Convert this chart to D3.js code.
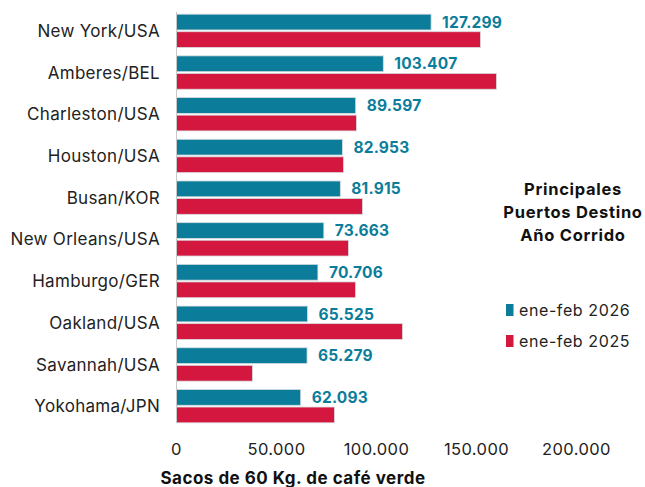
<!DOCTYPE html>
<html><head><meta charset="utf-8">
<script src="https://cdn.jsdelivr.net/npm/d3@7"></script>
<style>
body{margin:0;background:#fff;}
svg{display:block;font-family:"Inter","Open Sans",sans-serif;}
</style></head>
<body><svg id="c" width="645" height="487"></svg>
<script>
const categories = ["New York/USA","Amberes/BEL","Charleston/USA","Houston/USA","Busan/KOR","New Orleans/USA","Hamburgo/GER","Oakland/USA","Savannah/USA","Yokohama/JPN"];
const values2026 = [127299,103407,89597,82953,81915,73663,70706,65525,65279,62093];
const values2025 = [152000,160000,90000,83500,93000,86000,89500,113000,38000,79000];
const seriesNames = ["ene-feb 2026","ene-feb 2025"];
const tickValues = [0,50000,100000,150000,200000];
const colors = ["#0b7d9a","#d4173e"];

const svg = d3.select("#c");
const fmt = d => d3.format(",")(d).replace(/,/g,".");
const x = d3.scaleLinear().domain([0,200000]).range([176.5,576.5]);
const y = d3.scaleBand().domain(categories).range([10,427]).paddingInner(0.2).paddingOuter(0.1);
const sub = d3.scaleBand().domain([0,1]).range([0,y.bandwidth()]).paddingInner(0.1);

const rows = categories.map((c,i)=>({c,v:[values2026[i],values2025[i]]}));
const g = svg.append("g");
rows.forEach(r=>{
  r.v.forEach((v,k)=>{
    g.append("rect").attr("x",x(0)).attr("y",y(r.c)+sub(k))
     .attr("width",x(v)-x(0)).attr("height",sub.bandwidth())
     .attr("fill",colors[k]).attr("stroke","#d8dde0").attr("stroke-width",0.8);
  });
  g.append("text").attr("x",x(r.v[0])+11).attr("y",y(r.c)+sub(0)+sub.bandwidth()/2)
   .attr("dy","0.36em").attr("fill",colors[0]).attr("font-weight","700").attr("font-size",15.5)
   .attr("letter-spacing","0.2").text(fmt(r.v[0]));
});
// y axis line
svg.append("line").attr("x1",176.5).attr("x2",176.5).attr("y1",12).attr("y2",423).attr("stroke","#c8c8c8").attr("stroke-width",1);
// category labels
svg.append("g").selectAll("text").data(categories).join("text")
 .attr("x",160).attr("y",d=>y(d)+y.bandwidth()/2).attr("dy","0.36em")
 .attr("text-anchor","end").attr("font-size",17).attr("letter-spacing","0.3").attr("fill","#222").text(d=>d);
// x axis ticks
svg.append("g").selectAll("text").data(tickValues).join("text")
 .attr("x",d=>x(d)).attr("y",449).attr("dy","0.36em").attr("text-anchor","middle")
 .attr("font-size",16.5).attr("letter-spacing","0.4").attr("fill","#222").text(d=>fmt(d));
svg.append("text").attr("x",293).attr("y",478).attr("dy","0.36em").attr("text-anchor","middle")
 .attr("font-size",17).attr("letter-spacing","0.5").attr("font-weight","700").attr("fill","#111").text("Sacos de 60 Kg. de café verde");
// legend title
["Principales","Puertos Destino","Año Corrido"].forEach((t,i)=>{
  svg.append("text").attr("x",573).attr("y",189+i*23).attr("dy","0.36em").attr("text-anchor","middle")
   .attr("font-size",16.5).attr("letter-spacing","0.7").attr("font-weight","700").attr("fill","#111").text(t);
});
seriesNames.forEach((s,i)=>{
  const yy = 310+i*31;
  svg.append("rect").attr("x",506).attr("y",yy-6).attr("width",7.5).attr("height",12).attr("fill",colors[i]);
  svg.append("text").attr("x",519).attr("y",yy).attr("dy","0.36em").attr("font-size",16).attr("letter-spacing","0.6").attr("fill","#222").text(s);
});
</script></body></html>
